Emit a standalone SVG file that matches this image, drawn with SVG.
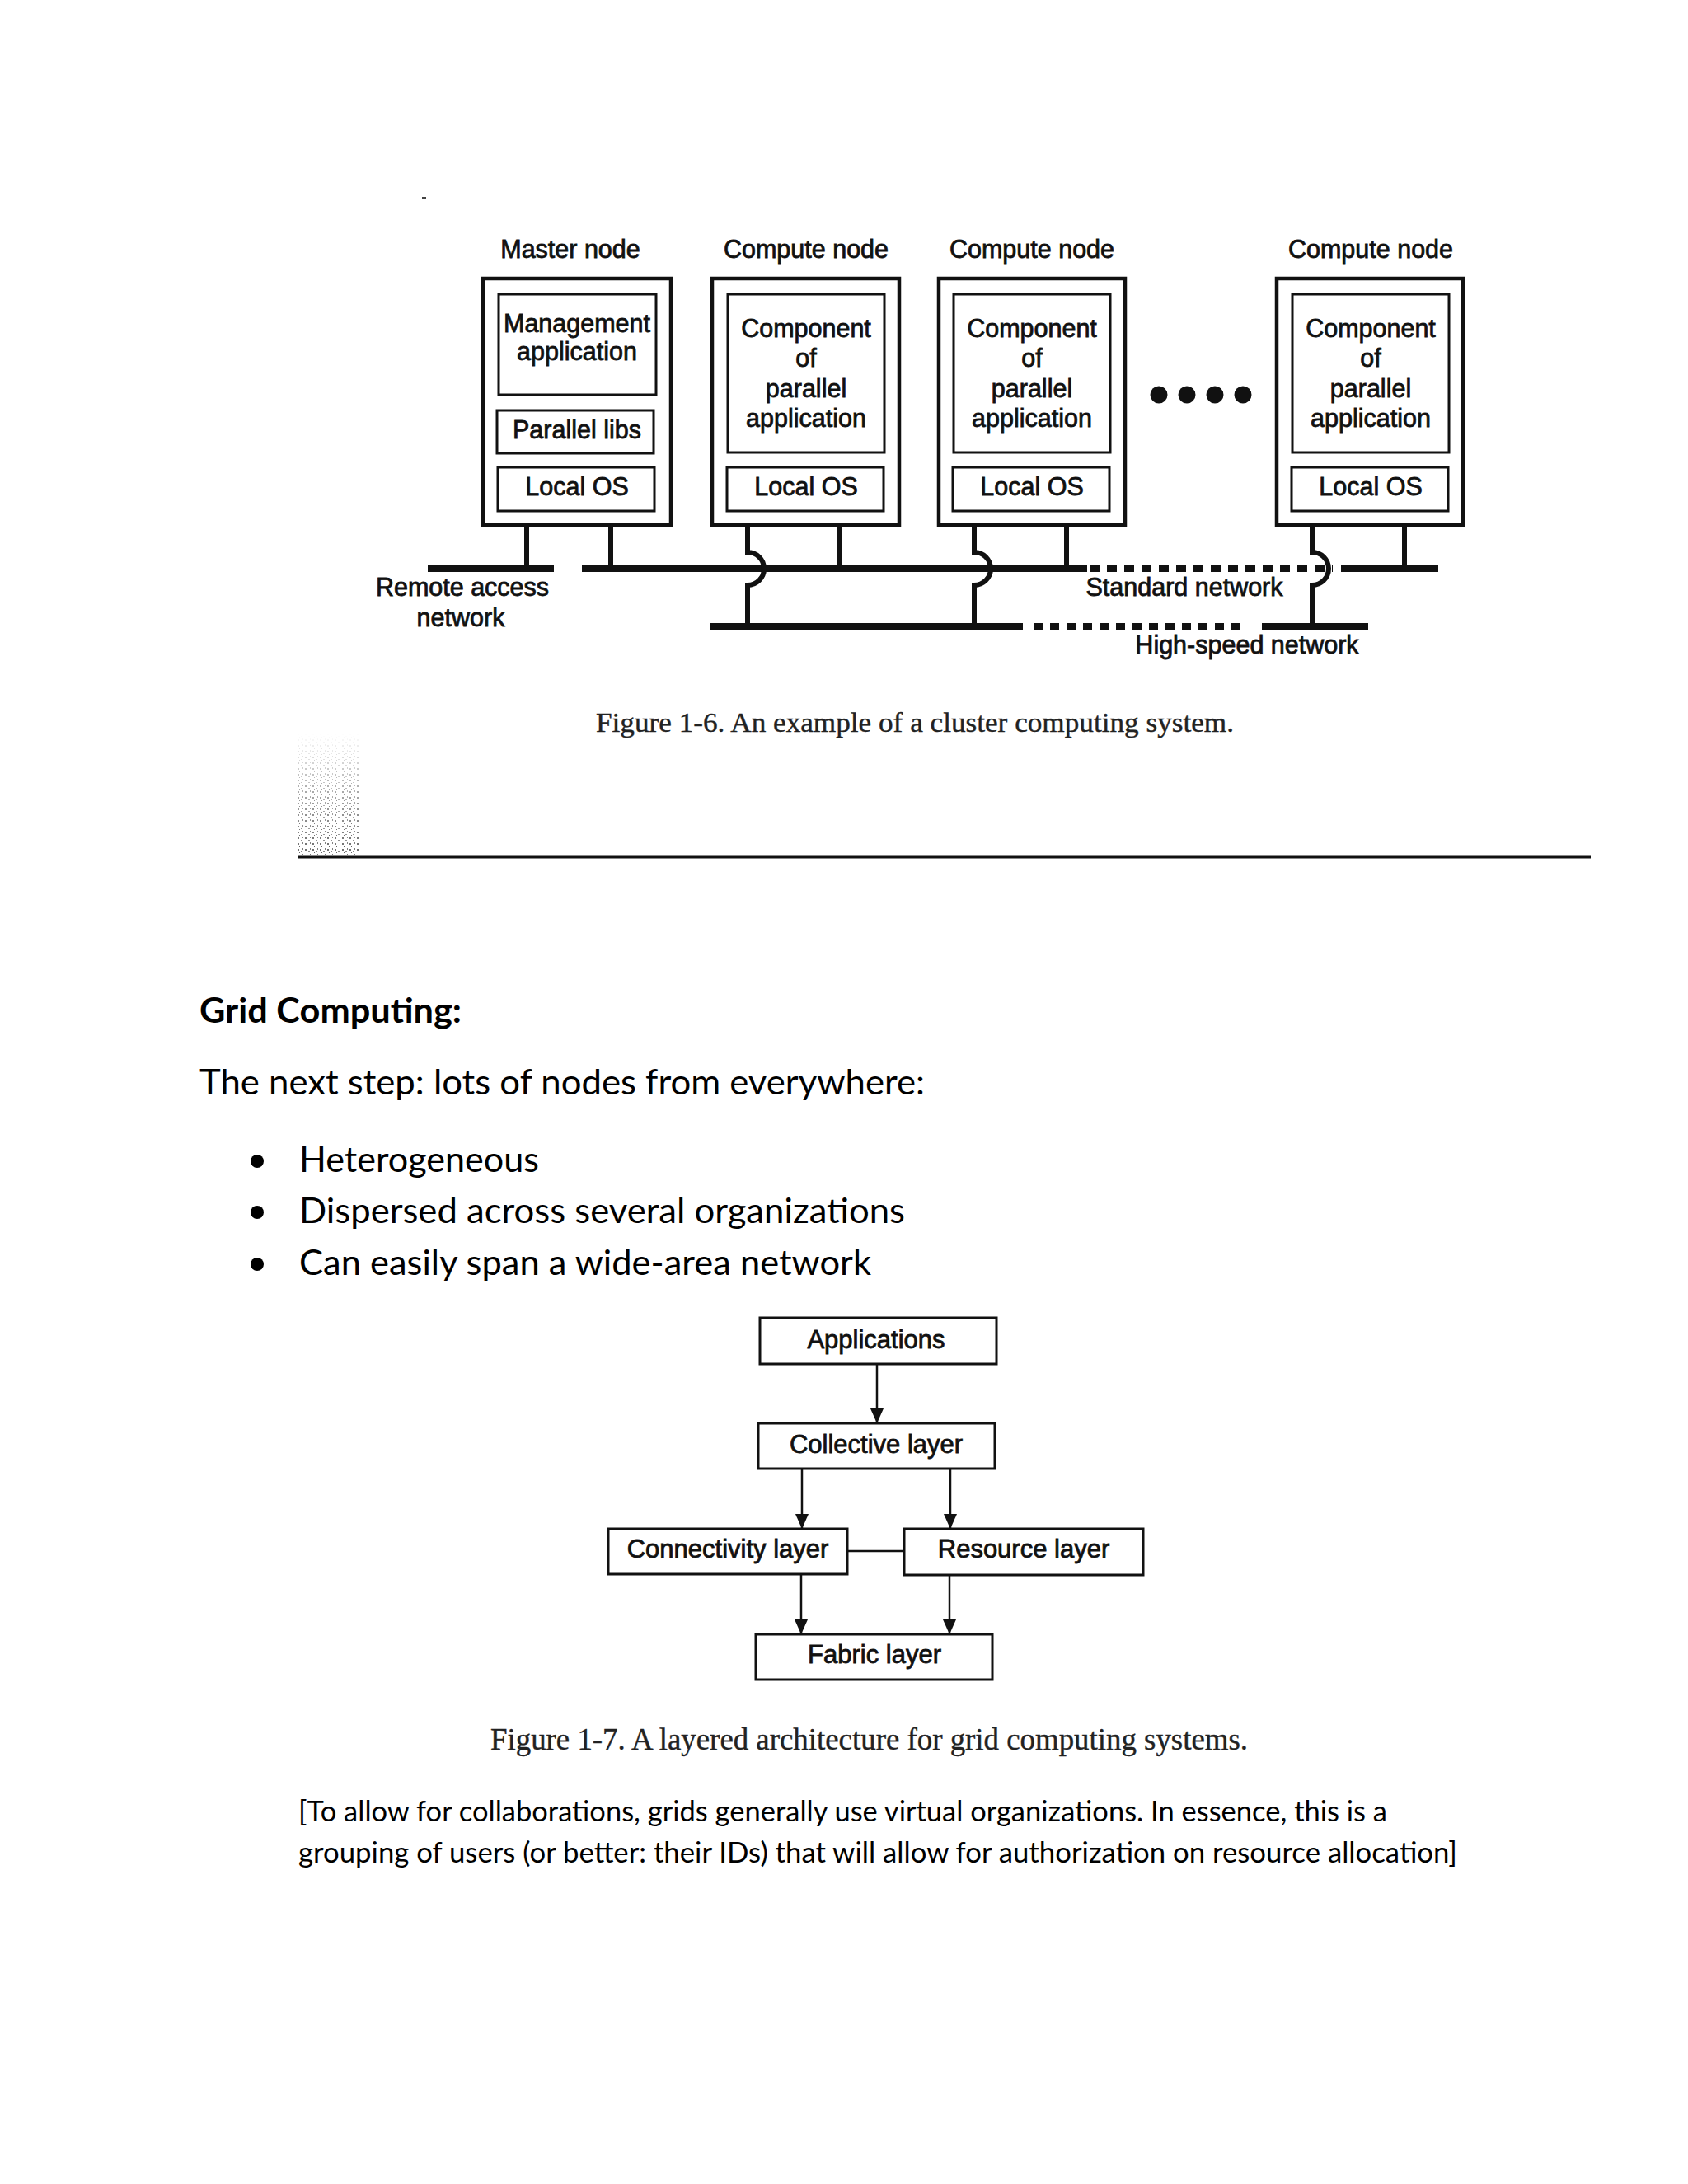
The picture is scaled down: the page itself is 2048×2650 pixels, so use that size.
<svg xmlns="http://www.w3.org/2000/svg" width="2048" height="2650" viewBox="0 0 2048 2650">
<style>
.outer{fill:#fff;stroke:#111;stroke-width:4.5}
.inner{fill:#fff;stroke:#111;stroke-width:3}
.box7{fill:#fff;stroke:#111;stroke-width:3}
.hv{font-family:"Liberation Sans",Arial,Helvetica,sans-serif;font-size:30.5px;fill:#111;stroke:#111;stroke-width:0.8;text-anchor:middle}
.hv7{font-family:"Liberation Sans",Arial,Helvetica,sans-serif;font-size:31px;fill:#111;stroke:#111;stroke-width:0.8;text-anchor:middle}
.net{fill:none;stroke:#111;stroke-width:8}
.drop{fill:none;stroke:#111;stroke-width:6}
.cap{font-family:"Liberation Serif","Times New Roman",serif;fill:#222;stroke:#222;stroke-width:0.4}
.body{font-family:Lato,Carlito,"Liberation Sans",sans-serif;fill:#000}
.arr{fill:none;stroke:#111;stroke-width:2.5}
</style>
<defs>
<marker id="ah" viewBox="0 0 18 20" refX="18" refY="10" markerWidth="18" markerHeight="20" markerUnits="userSpaceOnUse" orient="auto">
<path d="M0,2 L18,10 L0,18 z" fill="#111"/>
</marker>
<pattern id="speck" width="9" height="7" patternUnits="userSpaceOnUse">
<rect x="1" y="1" width="2" height="2" fill="#444"/>
<rect x="5" y="4" width="2" height="1" fill="#666"/>
<rect x="3" y="5" width="1" height="1" fill="#333"/>
<rect x="7" y="0" width="1" height="2" fill="#555"/>
</pattern>
<linearGradient id="fade" x1="0" y1="1" x2="0" y2="0">
<stop offset="0" stop-color="#fff" stop-opacity="1"/>
<stop offset="0.5" stop-color="#fff" stop-opacity="0.6"/>
<stop offset="1" stop-color="#fff" stop-opacity="0"/>
</linearGradient>
<linearGradient id="fadex" x1="0" y1="0" x2="1" y2="0">
<stop offset="0" stop-color="#fff" stop-opacity="1"/>
<stop offset="1" stop-color="#fff" stop-opacity="0"/>
</linearGradient>
<mask id="fm"><rect x="362" y="890" width="75" height="148" fill="url(#fade)"/></mask>
</defs>
<rect width="2048" height="2650" fill="#fff"/>

<!-- Figure 1-6 -->
<g id="tick"><line x1="512" y1="240" x2="517" y2="240" stroke="#444" stroke-width="2"/></g>

<g id="master-node">
<text class="hv" x="692" y="313">Master node</text>
<rect class="outer" x="586" y="338" width="228" height="299"/>
<rect class="inner" x="605" y="357" width="191" height="122"/>
<text class="hv" x="700" y="403">Management</text>
<text class="hv" x="700" y="437">application</text>
<rect class="inner" x="603" y="498" width="190" height="52"/>
<text class="hv" x="700" y="532">Parallel libs</text>
<rect class="inner" x="604" y="567" width="190" height="53"/>
<text class="hv" x="700" y="601">Local OS</text>
</g>

<g id="compute-node-1">
<text class="hv" x="978" y="313">Compute node</text>
<rect class="outer" x="864" y="338" width="227" height="299"/>
<rect class="inner" x="883" y="357" width="190" height="192"/>
<text class="hv" x="978" y="409">Component</text>
<text class="hv" x="978" y="445">of</text>
<text class="hv" x="978" y="482">parallel</text>
<text class="hv" x="978" y="518">application</text>
<rect class="inner" x="882" y="567" width="190" height="53"/>
<text class="hv" x="978" y="601">Local OS</text>
</g>

<g id="compute-node-2">
<text class="hv" x="1252" y="313">Compute node</text>
<rect class="outer" x="1139" y="338" width="226" height="299"/>
<rect class="inner" x="1157" y="357" width="190" height="192"/>
<text class="hv" x="1252" y="409">Component</text>
<text class="hv" x="1252" y="445">of</text>
<text class="hv" x="1252" y="482">parallel</text>
<text class="hv" x="1252" y="518">application</text>
<rect class="inner" x="1156" y="567" width="190" height="53"/>
<text class="hv" x="1252" y="601">Local OS</text>
</g>

<g id="ellipsis">
<circle cx="1406" cy="479" r="10.5" fill="#111"/>
<circle cx="1440" cy="479" r="10.5" fill="#111"/>
<circle cx="1474" cy="479" r="10.5" fill="#111"/>
<circle cx="1508" cy="479" r="10.5" fill="#111"/>
</g>

<g id="compute-node-3">
<text class="hv" x="1663" y="313">Compute node</text>
<rect class="outer" x="1549" y="338" width="226" height="299"/>
<rect class="inner" x="1568" y="357" width="190" height="192"/>
<text class="hv" x="1663" y="409">Component</text>
<text class="hv" x="1663" y="445">of</text>
<text class="hv" x="1663" y="482">parallel</text>
<text class="hv" x="1663" y="518">application</text>
<rect class="inner" x="1567" y="567" width="190" height="53"/>
<text class="hv" x="1663" y="601">Local OS</text>
</g>

<g id="networks">
<path class="net" d="M519 690 H672"/>
<path class="net" d="M706 690 H1319"/>
<path class="net" d="M1322 690 H1617" stroke-dasharray="12 9"/>
<path class="net" d="M1627 690 H1745"/>
<path class="net" d="M862 760 H1241"/>
<path class="net" d="M1254 760 H1514" stroke-dasharray="11 9"/>
<path class="net" d="M1531 760 H1660"/>
<text class="hv" x="561" y="723">Remote access</text>
<text class="hv" x="559" y="760">network</text>
<text class="hv" x="1437" y="723">Standard network</text>
<text class="hv" x="1513" y="793">High-speed network</text>
</g>

<g id="connectors-1-6">
<path class="drop" d="M639 637 V690"/>
<path class="drop" d="M741 637 V690"/>
<path class="drop" d="M907 637 V670 A20 20 0 0 1 907 710 V760"/>
<path class="drop" d="M1019 637 V690"/>
<path class="drop" d="M1182 637 V670 A20 20 0 0 1 1182 710 V760"/>
<path class="drop" d="M1294 637 V690"/>
<path class="drop" d="M1592 637 V670 A20 20 0 0 1 1592 710 V760"/>
<path class="drop" d="M1704 637 V690"/>
</g>

<text class="cap" x="723" y="888" font-size="34" textLength="774" lengthAdjust="spacingAndGlyphs">Figure  1-6. An example  of a cluster  computing  system.</text>

<g id="scan-noise"><rect x="362" y="890" width="75" height="148" fill="url(#speck)" mask="url(#fm)" opacity="0.8"/></g>
<line x1="362" y1="1040" x2="1930" y2="1040" stroke="#111" stroke-width="3"/>

<!-- Text -->
<text class="body" x="242" y="1241" font-size="42" font-weight="bold" textLength="318" lengthAdjust="spacingAndGlyphs">Grid Computing:</text>
<text class="body" x="242" y="1328" font-size="42" textLength="880" lengthAdjust="spacingAndGlyphs">The next step: lots of nodes from everywhere:</text>
<circle cx="312" cy="1409" r="8" fill="#000"/>
<text class="body" x="363" y="1422" font-size="42" textLength="291" lengthAdjust="spacingAndGlyphs">Heterogeneous</text>
<circle cx="312" cy="1471" r="8" fill="#000"/>
<text class="body" x="363" y="1484" font-size="42" textLength="735" lengthAdjust="spacingAndGlyphs">Dispersed across several organizations</text>
<circle cx="312" cy="1534" r="8" fill="#000"/>
<text class="body" x="363" y="1547" font-size="42" textLength="694" lengthAdjust="spacingAndGlyphs">Can easily span a wide-area network</text>

<!-- Figure 1-7 -->
<g id="applications">
<rect class="box7" x="922" y="1599" width="287" height="56"/>
<text class="hv7" x="1063" y="1636">Applications</text>
</g>
<g id="collective-layer">
<rect class="box7" x="920" y="1727" width="287" height="55"/>
<text class="hv7" x="1063" y="1763">Collective layer</text>
</g>
<g id="connectivity-layer">
<rect class="box7" x="738" y="1855" width="290" height="55"/>
<text class="hv7" x="883" y="1890">Connectivity layer</text>
</g>
<g id="resource-layer">
<rect class="box7" x="1097" y="1855" width="290" height="56"/>
<text class="hv7" x="1242" y="1890">Resource layer</text>
</g>
<g id="fabric-layer">
<rect class="box7" x="917" y="1983" width="287" height="55"/>
<text class="hv7" x="1061" y="2018">Fabric layer</text>
</g>
<g id="connectors-1-7">
<path class="arr" d="M1064 1655 V1727" marker-end="url(#ah)"/>
<path class="arr" d="M973 1782 V1855" marker-end="url(#ah)"/>
<path class="arr" d="M1153 1782 V1855" marker-end="url(#ah)"/>
<path class="arr" d="M972 1910 V1983" marker-end="url(#ah)"/>
<path class="arr" d="M1152 1911 V1983" marker-end="url(#ah)"/>
<path class="arr" d="M1028 1882 H1097"/>
</g>

<text class="cap" x="595" y="2123" font-size="37" textLength="919" lengthAdjust="spacingAndGlyphs">Figure  1-7. A layered  architecture  for grid computing  systems.</text>

<text class="body" x="362" y="2210" font-size="35" textLength="1321" lengthAdjust="spacingAndGlyphs">[To allow for collaborations, grids generally use virtual organizations. In essence, this is a</text>
<text class="body" x="362" y="2260" font-size="35" textLength="1406" lengthAdjust="spacingAndGlyphs">grouping of users (or better: their IDs) that will allow for authorization on resource allocation]</text>
</svg>
